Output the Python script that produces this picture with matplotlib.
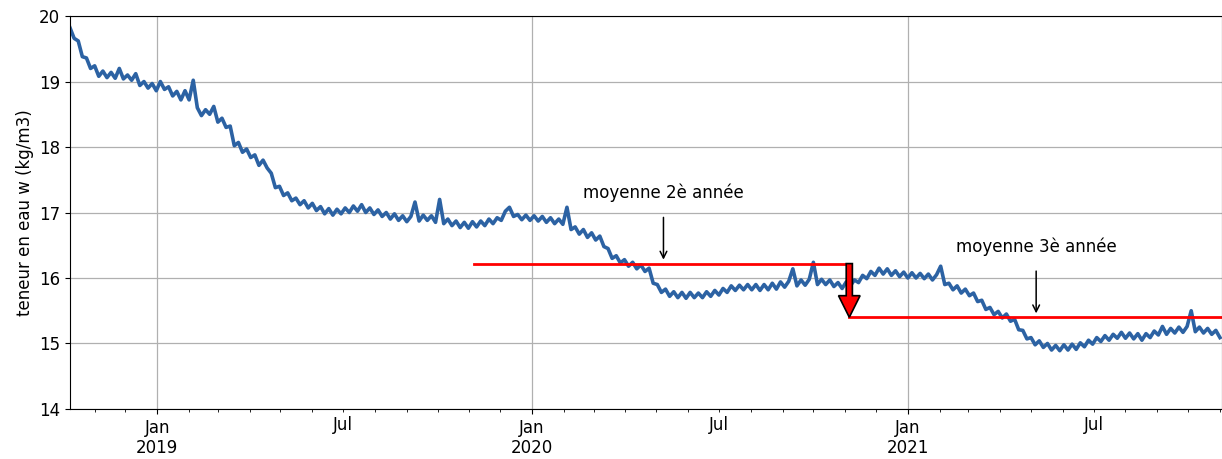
import numpy as np
import pandas as pd
import matplotlib
matplotlib.use("Agg")
import matplotlib.pyplot as plt
import matplotlib.dates as mdates
from matplotlib.patches import FancyArrow

# -----------------------------------
# Data (one value every 4 days)
# -----------------------------------
START = "2018-10-08"
STEP = "4D"

w_values = [
    19.82, 19.66, 19.62, 19.38, 19.36, 19.20, 19.24, 19.08, 19.16, 19.06,
    19.14, 19.05, 19.20, 19.04, 19.10, 19.02, 19.12, 18.94, 19.00, 18.90,
    18.97, 18.86, 19.00, 18.88, 18.92, 18.78, 18.85, 18.72, 18.86, 18.72,
    19.02, 18.60, 18.48, 18.57, 18.50, 18.62, 18.38, 18.44, 18.30, 18.32,
    18.02, 18.07, 17.92, 17.97, 17.84, 17.88, 17.72, 17.80, 17.68, 17.60,
    17.38, 17.40, 17.26, 17.30, 17.18, 17.22, 17.12, 17.18, 17.07, 17.14,
    17.03, 17.09, 16.98, 17.06, 16.96, 17.05, 16.98, 17.07, 17.00, 17.10,
    17.02, 17.12, 17.00, 17.07, 16.97, 17.04, 16.94, 17.00, 16.90, 16.98,
    16.88, 16.95, 16.86, 16.94, 17.16, 16.87, 16.96, 16.88, 16.95, 16.85,
    17.20, 16.83, 16.90, 16.80, 16.87, 16.77, 16.85, 16.76, 16.86, 16.78,
    16.87, 16.80, 16.90, 16.83, 16.92, 16.88, 17.02, 17.08, 16.94, 16.97,
    16.89, 16.96, 16.88, 16.95, 16.87, 16.94, 16.85, 16.92, 16.83, 16.90,
    16.82, 17.08, 16.74, 16.78, 16.67, 16.74, 16.62, 16.69, 16.58, 16.64,
    16.48, 16.45, 16.30, 16.34, 16.23, 16.28, 16.18, 16.24, 16.14, 16.20,
    16.10, 16.15, 15.92, 15.90, 15.78, 15.83, 15.72, 15.79, 15.70, 15.78,
    15.69, 15.78, 15.70, 15.77, 15.70, 15.79, 15.72, 15.81, 15.74, 15.84,
    15.78, 15.88, 15.81, 15.89, 15.82, 15.90, 15.82, 15.90, 15.81, 15.90,
    15.82, 15.92, 15.83, 15.94, 15.86, 15.95, 16.14, 15.88, 15.97, 15.89,
    15.98, 16.24, 15.90, 15.98, 15.90, 15.97, 15.87, 15.93, 15.84, 15.94,
    15.88, 15.97, 15.93, 16.04, 15.99, 16.10, 16.04, 16.15, 16.06, 16.14,
    16.04, 16.11, 16.02, 16.09, 16.00, 16.08, 16.00, 16.07, 15.99, 16.06,
    15.97, 16.05, 16.18, 15.90, 15.92, 15.82, 15.88, 15.77, 15.83, 15.73,
    15.77, 15.64, 15.66, 15.52, 15.55, 15.44, 15.49, 15.39, 15.45, 15.34,
    15.37, 15.21, 15.20, 15.07, 15.09, 14.98, 15.04, 14.94, 15.00, 14.90,
    14.97, 14.89, 14.98, 14.90, 14.99, 14.91, 15.01, 14.95, 15.05, 14.99,
    15.09, 15.03, 15.12, 15.05, 15.14, 15.08, 15.17, 15.08, 15.16, 15.07,
    15.15, 15.05, 15.15, 15.09, 15.19, 15.13, 15.26, 15.14, 15.23, 15.16,
    15.25, 15.17, 15.26, 15.50, 15.18, 15.25, 15.16, 15.23, 15.14, 15.20,
    15.09,
]

# yearly means and their periods
mean_starts = ["2019-11-05", "2020-11-05"]
mean_ends = ["2020-11-05", "2021-11-03"]
mean_values = [16.22, 15.40]
mean_labels = ["moyenne 2è année", "moyenne 3è année"]
label_dates = ["2020-05-08", "2021-05-06"]

dates = pd.date_range(START, periods=len(w_values), freq=STEP)

# -----------------------------------
# Figure
# -----------------------------------
fig = plt.figure(figsize=(12.22, 4.59), dpi=100)
ax = fig.add_axes([0.0573, 0.109, 0.9427, 0.856])

ax.plot(dates, w_values, color="#2c62a3", lw=2.6)

# red mean lines
for s, e, v in zip(mean_starts, mean_ends, mean_values):
    ax.plot([pd.Timestamp(s), pd.Timestamp(e)], [v, v], color="red", lw=2)

# red drop arrow between the two means
x_arrow = mdates.date2num(pd.Timestamp(mean_starts[1]))
ax.add_patch(FancyArrow(
    x_arrow, mean_values[0], 0, mean_values[1] - mean_values[0],
    width=6, head_width=21, head_length=0.33,
    length_includes_head=True,
    facecolor="red", edgecolor="black", lw=1.2, zorder=5
))

# annotations
for lab, d, v in zip(mean_labels, label_dates, mean_values):
    ax.annotate(
        lab,
        xy=(pd.Timestamp(d), v + 0.06),
        xytext=(pd.Timestamp(d), v + 1.08),
        ha="center", va="center", fontsize=12,
        arrowprops=dict(arrowstyle="->", color="black", lw=1.1,
                        shrinkA=9, shrinkB=0),
    )

# -----------------------------------
# Axes
# -----------------------------------
ax.set_xlim(pd.Timestamp("2018-10-08"), pd.Timestamp("2021-11-03"))
ax.set_ylim(14, 20)

ax.xaxis.set_major_locator(mdates.YearLocator())
ax.xaxis.set_major_formatter(mdates.DateFormatter("%b\n%Y"))
ax.xaxis.set_minor_locator(mdates.MonthLocator())


def minor_fmt(x, pos):
    d = mdates.num2date(x)
    return "Jul" if d.month == 7 else ""


ax.xaxis.set_minor_formatter(plt.FuncFormatter(minor_fmt))

ax.tick_params(axis="both", which="major", labelsize=12)
ax.tick_params(axis="x", which="minor", labelsize=12)

ax.grid(True, which="major", color="#b0b0b0", lw=0.9)
ax.set_ylabel("teneur en eau w (kg/m3)", fontsize=12)

fig.savefig("out.png", dpi=100)
